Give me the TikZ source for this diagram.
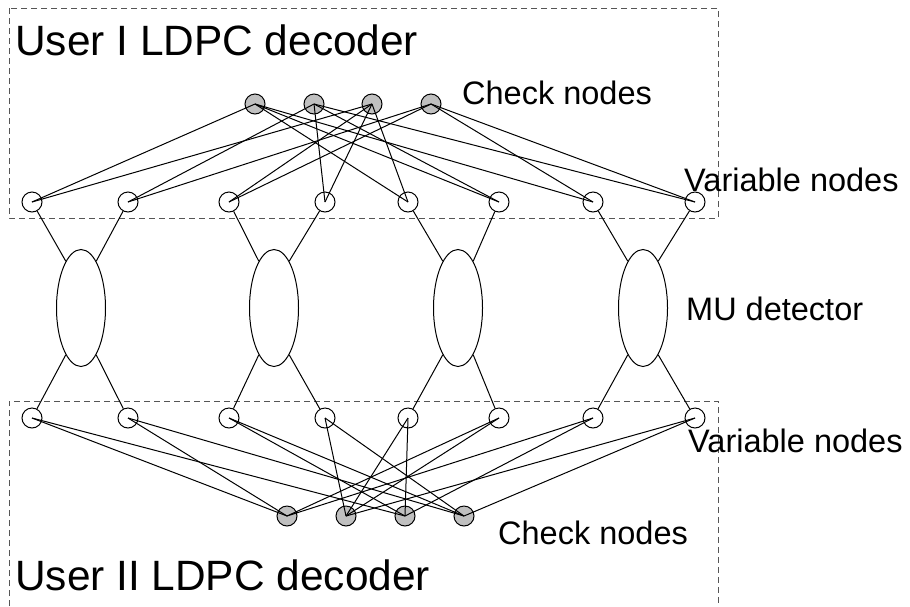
\documentclass[tikz,border=0pt]{standalone}
\usepackage{fontspec}
\setmainfont{Liberation Sans}
\usetikzlibrary{shapes.geometric}
\definecolor{chkgray}{RGB}{192,192,192}
\definecolor{boxgray}{RGB}{85,85,85}
\begin{document}
\begin{tikzpicture}[x=1pt,y=-1pt,
  vnode/.style={circle,draw,line width=1pt,minimum size=20pt,inner sep=0pt},
  cnode/.style={circle,draw,fill=chkgray,line width=1pt,minimum size=20pt,inner sep=0pt},
  det/.style={ellipse,draw,line width=1pt,minimum width=49pt,minimum height=117pt,inner sep=0pt},
  edge/.style={line width=1pt},
  box/.style={draw=boxgray,line width=1pt,dash pattern=on 6pt off 4pt},
  lab/.style={font=\fontsize{32.5}{39}\selectfont,anchor=base west,inner sep=0pt},
  biglab/.style={font=\fontsize{42.4}{50}\selectfont,anchor=base west,inner sep=0pt}]
\useasboundingbox (0,0) rectangle (910,606);

% dashed decoder boxes
\draw[box] (9,8) rectangle (718,218);
\draw[box] (9,606) -- (9,401) -- (718,401) -- (718,606);

% variable nodes
\foreach \i/\x in {1/32,2/128,3/229,4/325,5/408,6/499,7/593,8/695}{
  \node[vnode] (t\i) at (\x,202) {};
  \node[vnode] (b\i) at (\x,418) {};
}
% check nodes
\foreach \i/\x in {1/255,2/314,3/372,4/431}{
  \node[cnode] (tc\i) at (\x,104) {};
}
\foreach \i/\x in {1/287,2/346,3/405,4/464}{
  \node[cnode] (bc\i) at (\x,516) {};
}
% MU detectors
\foreach \i/\x in {1/81,2/274,3/458,4/643}{
  \node[det] (e\i) at (\x,308) {};
}

% detector links
\foreach \i/\l/\r in {1/1/2,2/3/4,3/5/6,4/7/8}{
  \draw[edge] (t\l) -- (e\i.108);
  \draw[edge] (t\r) -- (e\i.72);
  \draw[edge] (b\l) -- (e\i.252);
  \draw[edge] (b\r) -- (e\i.288);
}

% Tanner graph edges, user I
\foreach \c/\vs in {1/{1,5,6,7},2/{2,4,6,8},3/{1,3,4,5},4/{2,3,7,8}}{
  \foreach \v in \vs {\draw[edge] (tc\c.center) -- (t\v.center);}
}
% Tanner graph edges, user II
\foreach \c/\vs in {1/{1,2,6,7},2/{4,5,6,8},3/{1,3,5,7},4/{2,3,4,8}}{
  \foreach \v in \vs {\draw[edge] (bc\c.center) -- (b\v.center);}
}

% labels
\node[biglab] (u1) at (15,55) {User I LDPC decoder};
\node[lab] (chk1) at (462,104) {Check nodes};
\node[lab] (var1) at (684,191) {Variable nodes};
\node[lab] (mu) at (686,320) {MU detector};
\node[lab] (var2) at (688,452) {Variable nodes};
\node[lab] (chk2) at (498,544) {Check nodes};
\node[biglab] (u2) at (15,590) {User II LDPC decoder};
\end{tikzpicture}
\end{document}
